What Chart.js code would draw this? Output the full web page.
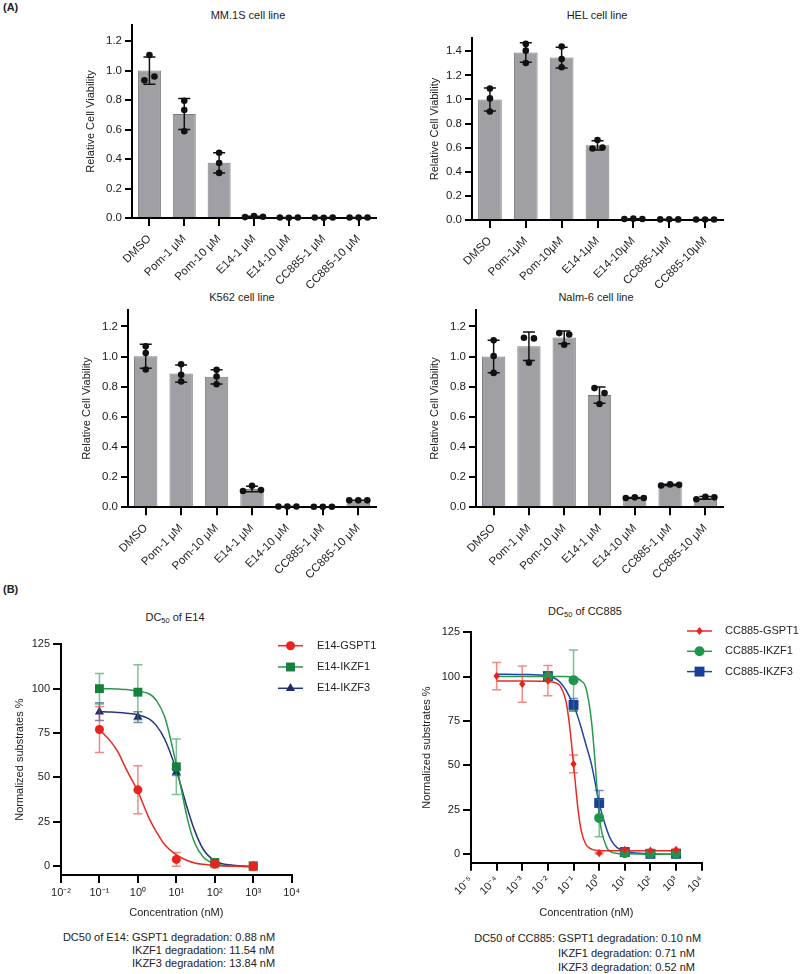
<!DOCTYPE html>
<html>
<head>
<meta charset="utf-8">
<script src="https://cdn.jsdelivr.net/npm/chart.js@4.4.1/dist/chart.umd.min.js"></script>
<style>
  body { margin:0; background:#fff; width:800px; height:974px; position:relative; overflow:hidden;
         font-family:"Liberation Sans", Arial, sans-serif; color:#222; }
  canvas { position:absolute; }
  .ttl { position:absolute; font-size:11px; transform:translate(-50%,-50%); white-space:nowrap; }
  .ttl sub { font-size:7.5px; vertical-align:-2px; }
  .tag { position:absolute; font-size:11px; font-weight:bold; }
  .dc { position:absolute; font-size:11px; white-space:nowrap; }
  .dc .lead { position:absolute; right:100%; white-space:pre; }
</style>
</head>
<body>

<div class="tag" style="left:3px;top:1px">(A)</div>
<div class="tag" style="left:3px;top:583px">(B)</div>

<div class="ttl" style="left:248px;top:15px">MM.1S cell line</div>
<div class="ttl" style="left:597px;top:15px">HEL cell line</div>
<div class="ttl" style="left:242px;top:297px">K562 cell line</div>
<div class="ttl" style="left:596px;top:297px">Nalm-6 cell line</div>
<div class="ttl" style="left:175px;top:618px">DC<sub>50</sub> of E14</div>
<div class="ttl" style="left:585px;top:612px">DC<sub>50</sub> of CC885</div>

<canvas id="mm1s" width="310" height="285" style="left:80px;top:15px"></canvas>
<canvas id="hel" width="316" height="285" style="left:424px;top:15px"></canvas>
<canvas id="k562" width="314" height="280" style="left:76px;top:300px"></canvas>
<canvas id="nalm6" width="316" height="280" style="left:424px;top:300px"></canvas>
<canvas id="e14" width="391" height="324" style="left:9px;top:600px"></canvas>
<canvas id="cc885" width="384" height="324" style="left:416px;top:600px"></canvas>

<div class="dc" style="left:132px;top:931px;line-height:13px"><span class="lead">DC50 of E14: </span>GSPT1 degradation: 0.88 nM<br>IKZF1 degradation: 11.54 nM<br>IKZF3 degradation: 13.84 nM</div>
<div class="dc" style="left:558px;top:931px;line-height:14.5px"><span class="lead">DC50 of CC885: </span>GSPT1 degradation: 0.10 nM<br>IKZF1 degradation: 0.71 nM<br>IKZF3 degradation: 0.52 nM</div>

<script>
// ---- bar panels: categories and replicate values (3 per group)
const CATS_SPACED = ['DMSO', 'Pom-1 μM', 'Pom-10 μM', 'E14-1 μM', 'E14-10 μM', 'CC885-1 μM', 'CC885-10 μM'];
const CATS_HEL = ['DMSO', 'Pom-1μM', 'Pom-10μM', 'E14-1μM', 'E14-10μM', 'CC885-1μM', 'CC885-10μM'];

const MM1S_REPS = [[1.105, 0.935, 0.96], [0.795, 0.733, 0.589], [0.443, 0.373, 0.306],
                   [0.006, 0.013, 0.008], [0.003, 0.002, 0.003], [0.003, 0.002, 0.003], [0.003, 0.003, 0.003]];
const HEL_REPS = [[1.09, 1.009, 0.90], [1.461, 1.405, 1.303], [1.439, 1.336, 1.267],
                  [0.593, 0.663, 0.602], [0.008, 0.011, 0.008], [0.005, 0.006, 0.005], [0.004, 0.004, 0.004]];
const K562_REPS = [[1.068, 1.024, 0.914], [0.949, 0.879, 0.835], [0.912, 0.868, 0.817],
                   [0.108, 0.143, 0.115], [0.005, 0.005, 0.005], [0.004, 0.004, 0.004], [0.046, 0.046, 0.046]];
const NALM6_REPS = [[1.108, 1.004, 0.892], [1.125, 1.121, 0.96], [1.156, 1.147, 1.079],
                    [0.791, 0.758, 0.686], [0.0615, 0.066, 0.0615], [0.145, 0.152, 0.149], [0.053, 0.07, 0.066]];

// ---- DC50 panels
const E14_CONC = [0.1, 1, 10, 100, 1000];
const E14_GSPT1 = [77, 43, 3.8, 1.1, 0];
const E14_GSPT1_SD = [13, 13.5, 3.9, 2, 2.5];
const E14_IKZF1 = [100, 98, 56, 2, 0];
const E14_IKZF1_SD = [8.6, 15.5, 15.6, 2, 2];
const E14_IKZF3 = [87, 84, 53, 1.5, 0];
const E14_IKZF3_SD = [5, 3, 2, 1, 1];

const E14_FIT_X = [0.1, 0.2, 0.3, 0.5, 1, 2, 3, 5, 10, 20, 30, 50, 100, 300, 1000];
const E14_GSPT1_FIT = [77, 70, 64.5, 54.5, 42, 26.5, 19.5, 12, 6.3, 3, 1.8, 1, 0.3, 0, 0];
const E14_IKZF1_FIT = [100, 100, 99.8, 99.5, 98.5, 97, 93.5, 84, 57, 25.5, 13, 5.2, 1.3, 0, -0.5];
const E14_IKZF3_FIT = [87, 86.8, 86.6, 86.2, 85.3, 82.8, 79.3, 71.5, 54, 31.5, 20, 9.5, 3, 0.5, -0.3];

const CC_CONC_G = [1e-4, 1e-3, 1e-2, 0.1, 1, 10, 100, 1000];
const CC_GSPT1 = [100.3, 95.8, 97.7, 50.7, 0.4, 2.3, 1.9, 2.3];
const CC_GSPT1_SD = [7.7, 10.2, 8.5, 5, 0.5, 0.5, 0.5, 0.5];
const CC_CONC_I = [1e-2, 0.1, 1, 10, 100, 1000];
const CC_IKZF1 = [100, 98, 20.2, 0.4, 0, 0];
const CC_IKZF1_SD = [1.5, 17, 10.5, 0.8, 0.5, 0.5];
const CC_IKZF3 = [100.3, 84, 28.7, 1, 0, 0];
const CC_IKZF3_SD = [1.5, 3.6, 7, 0.8, 0.5, 0.5];

const CC_FIT_X = [1e-4, 1e-3, 1e-2, 0.02, 0.03, 0.05, 0.07, 0.1, 0.15, 0.2, 0.3, 0.5, 0.7, 1, 2, 3, 5, 10, 100, 1000];
const CC_GSPT1_FIT = [97.5, 97.5, 97.3, 96.5, 94.8, 86.5, 72.5, 50.5, 25, 13, 5.4, 2.7, 2.1, 1.9, 1.8, 1.8, 1.8, 1.8, 1.8, 1.8];
const CC_IKZF1_FIT = [100, 100, 100, 100, 100, 100, 99.8, 99.5, 98.8, 97.5, 94, 75, 51, 21.5, 3.5, 1, 0.2, 0, -0.2, -0.2];
const CC_IKZF3_FIT = [101.4, 101.2, 100.4, 98.8, 96.8, 92.5, 88.5, 84, 77, 71, 62, 50.5, 40, 28.5, 13.5, 7.5, 3.5, 1.5, 0, -0.3];

const E14_XTICKS = [1e-2, 1e-1, 1, 10, 100, 1000, 10000];
const CC_XTICKS = [1e-5, 1e-4, 1e-3, 1e-2, 1e-1, 1, 10, 100, 1000, 10000];

Chart.defaults.font.family = '"Liberation Sans", Arial, sans-serif';
Chart.defaults.color = '#222';

const mean = a => a.reduce((s, v) => s + v, 0) / a.length;
const sd = a => { const m = mean(a); return Math.sqrt(a.reduce((s, v) => s + (v - m) * (v - m), 0) / (a.length - 1)); };

const SUP = {'-': '⁻', '0': '⁰', '1': '¹', '2': '²', '3': '³', '4': '⁴', '5': '⁵', '6': '⁶', '7': '⁷', '8': '⁸', '9': '⁹'};
function tenPow(v) {
  const e = Math.round(Math.log10(v));
  return '10' + String(e).split('').map(c => SUP[c]).join('');
}

function drawMarker(ctx, style, r, x, y) {
  ctx.beginPath();
  if (style === 'circle') {
    ctx.arc(x, y, r, 0, Math.PI * 2);
  } else if (style === 'rect') {
    const s = r * Math.SQRT1_2;
    ctx.rect(x - s, y - s, 2 * s, 2 * s);
  } else if (style === 'rectRot') {
    const s = r * Math.SQRT1_2;
    ctx.moveTo(x, y - r * 0.9); ctx.lineTo(x + s, y); ctx.lineTo(x, y + r * 0.9); ctx.lineTo(x - s, y);
    ctx.closePath();
  } else if (style === 'triangle') {
    ctx.moveTo(x, y - r);
    ctx.lineTo(x + r * 0.866, y + r * 0.5);
    ctx.lineTo(x - r * 0.866, y + r * 0.5);
    ctx.closePath();
  }
  ctx.fill();
}

// replicate dots + mean +/- SD on each bar
const replicatePlugin = {
  id: 'replicates',
  afterDatasetsDraw(chart, args, opts) {
    const ctx = chart.ctx, xs = chart.scales.x, ys = chart.scales.y;
    opts.reps.forEach((vals, i) => {
      const cx = xs.getPixelForValue(i);
      const m = mean(vals), s = sd(vals);
      const top = ys.getPixelForValue(m + s), bot = ys.getPixelForValue(m - s);
      ctx.save();
      ctx.strokeStyle = '#111';
      ctx.lineWidth = 1.5;
      ctx.beginPath();
      ctx.moveTo(cx, top); ctx.lineTo(cx, bot);
      ctx.moveTo(cx - 6, top); ctx.lineTo(cx + 6, top);
      ctx.moveTo(cx - 6, bot); ctx.lineTo(cx + 6, bot);
      ctx.stroke();

      const py = vals.map(v => ys.getPixelForValue(v));
      const order = vals.map((v, k) => k).sort((a, b) => py[a] - py[b]);
      const groups = [];
      order.forEach(k => {
        const g = groups[groups.length - 1];
        if (g && py[k] - py[g[g.length - 1]] < 6) g.push(k); else groups.push([k]);
      });
      ctx.fillStyle = '#111';
      groups.forEach(g => {
        g.sort((a, b) => a - b);
        const step = g.length === 2 ? 10 : 9;
        g.forEach((k, j) => {
          const dx = (j - (g.length - 1) / 2) * step;
          ctx.beginPath();
          ctx.arc(cx + dx, py[k], 3.3, 0, Math.PI * 2);
          ctx.fill();
        });
      });
      ctx.restore();
    });
  }
};

function barChart(id, cats, reps, ymax, box) {
  new Chart(document.getElementById(id), {
    type: 'bar',
    data: {
      labels: cats,
      datasets: [{
        data: reps.map(mean),
        backgroundColor: 'rgb(160,160,164)',
        borderColor: 'rgb(125,125,128)',
        borderWidth: 1,
        barPercentage: 0.66,
        categoryPercentage: 1
      }]
    },
    options: {
      responsive: false,
      animation: false,
      layout: {padding: {top: box.padTop, right: box.padRight, left: 0, bottom: 0}},
      plugins: {legend: {display: false}, tooltip: {enabled: false}, replicates: {reps: reps}},
      scales: {
        x: {
          grid: {display: true, drawOnChartArea: false, offset: false, tickLength: 8, lineWidth: 2, color: '#000'},
          border: {color: '#000', width: 2},
          ticks: {minRotation: 45, maxRotation: 45, autoSkip: false, font: {size: 11.5}, padding: 6},
          afterFit(s) { s.height = box.xh; }
        },
        y: {
          min: 0, max: ymax,
          ticks: {stepSize: 0.2, includeBounds: false, callback: v => v.toFixed(1), font: {size: 11.5}, padding: 3},
          grid: {drawOnChartArea: false, tickLength: 7, lineWidth: 2, color: '#000'},
          border: {color: '#000', width: 2},
          title: {display: true, text: 'Relative Cell Viability', font: {size: 11}},
          afterFit(s) { s.width = box.yw; }
        }
      }
    },
    plugins: [replicatePlugin]
  });
}

barChart('mm1s', CATS_SPACED, MM1S_REPS, 1.31, {padTop: 8, padRight: 14, xh: 82, yw: 52});
barChart('hel', CATS_HEL, HEL_REPS, 1.51, {padTop: 23, padRight: 17, xh: 80, yw: 48});
barChart('k562', CATS_SPACED, K562_REPS, 1.31, {padTop: 8.3, padRight: 14, xh: 72.7, yw: 52});
barChart('nalm6', CATS_SPACED, NALM6_REPS, 1.31, {padTop: 8.3, padRight: 17, xh: 72.7, yw: 52});

// error bars drawn just before each measured-point dataset
const errorBarPlugin = {
  id: 'errorBars',
  beforeDatasetDraw(chart, args) {
    const ds = chart.data.datasets[args.index];
    if (!ds.errors) return;
    const ctx = chart.ctx, xs = chart.scales.x, ys = chart.scales.y;
    ctx.save();
    ctx.strokeStyle = ds.errColor;
    ctx.lineWidth = 1.5;
    ds.data.forEach((p, i) => {
      const e = ds.errors[i];
      const px = xs.getPixelForValue(p.x);
      const t = ys.getPixelForValue(p.y + e), b = ys.getPixelForValue(p.y - e);
      ctx.beginPath();
      ctx.moveTo(px, t); ctx.lineTo(px, b);
      ctx.moveTo(px - 4.5, t); ctx.lineTo(px + 4.5, t);
      ctx.moveTo(px - 4.5, b); ctx.lineTo(px + 4.5, b);
      ctx.stroke();
    });
    ctx.restore();
  }
};

// markers drawn by hand so they match the legend exactly
const markerPlugin = {
  id: 'markers',
  afterDatasetDraw(chart, args) {
    const ds = chart.data.datasets[args.index];
    if (!ds.marker) return;
    const ctx = chart.ctx, xs = chart.scales.x, ys = chart.scales.y;
    ctx.save();
    ctx.fillStyle = ds.markerColor;
    ds.data.forEach(p => drawMarker(ctx, ds.marker, ds.markerSize, xs.getPixelForValue(p.x), ys.getPixelForValue(p.y)));
    ctx.restore();
  }
};

const sideLegend = {
  id: 'sideLegend',
  afterDraw(chart, args, o) {
    const ctx = chart.ctx;
    let k = 0;
    chart.data.datasets.forEach(ds => {
      if (!ds.marker) return;
      const y = o.y + k * o.dy;
      ctx.save();
      ctx.strokeStyle = ds.lineColor;
      ctx.lineWidth = 1.5;
      ctx.beginPath(); ctx.moveTo(o.x, y); ctx.lineTo(o.x + 25, y); ctx.stroke();
      ctx.fillStyle = ds.markerColor;
      drawMarker(ctx, ds.marker, ds.markerSize, o.x + 12.5, y);
      ctx.fillStyle = '#222';
      ctx.font = '11px "Liberation Sans", Arial, sans-serif';
      ctx.textBaseline = 'middle';
      ctx.fillText(ds.label, o.tx, y);
      ctx.restore();
      k++;
    });
  }
};

function series(label, xs, ys, errs, fitX, fitY, marker, size, mColor, lColor, eColor) {
  return [
    {data: fitX.map((x, i) => ({x: x, y: fitY[i]})), showLine: true, pointRadius: 0, borderColor: lColor,
     borderWidth: 1.5, cubicInterpolationMode: 'monotone', order: 2},
    {label: label, data: xs.map((x, i) => ({x: x, y: ys[i]})), showLine: false, pointRadius: 0,
     errors: errs, errColor: eColor, marker: marker, markerSize: size, markerColor: mColor, lineColor: lColor, order: 1}
  ];
}

function doseChart(id, datasets, xticks, rot, box, legend) {
  new Chart(document.getElementById(id), {
    type: 'scatter',
    data: {datasets: datasets},
    options: {
      responsive: false,
      animation: false,
      layout: {padding: {top: box.padTop, right: box.padRight, left: 0, bottom: 0}},
      plugins: {legend: {display: false}, tooltip: {enabled: false}, sideLegend: legend},
      scales: {
        x: {
          type: 'logarithmic', min: xticks[0], max: xticks[xticks.length - 1],
          afterBuildTicks(s) { s.ticks = xticks.map(v => ({value: v})); },
          ticks: {callback: v => tenPow(v), minRotation: rot, maxRotation: rot, autoSkip: false, font: {size: 11}, padding: 3},
          grid: {drawOnChartArea: false, tickLength: 8, lineWidth: 2, color: '#000'},
          border: {color: '#000', width: 2},
          title: {display: true, text: 'Concentration (nM)', font: {size: 11}},
          afterFit(s) { s.height = box.xh; }
        },
        y: {
          min: -5, max: 125,
          ticks: {stepSize: 25, includeBounds: false, font: {size: 11}, padding: 3},
          grid: {drawOnChartArea: false, tickLength: 8, lineWidth: 2, color: '#000'},
          border: {color: '#000', width: 2},
          title: {display: true, text: 'Normalized substrates %', font: {size: 11}},
          afterFit(s) { s.width = box.yw; }
        }
      }
    },
    plugins: [errorBarPlugin, markerPlugin, sideLegend]
  });
}

doseChart('e14', [].concat(
  series('E14-GSPT1', E14_CONC, E14_GSPT1, E14_GSPT1_SD, E14_FIT_X, E14_GSPT1_FIT, 'circle', 4.5, '#e8231d', '#ea2a22', 'rgba(234,60,50,0.6)'),
  series('E14-IKZF1', E14_CONC, E14_IKZF1, E14_IKZF1_SD, E14_FIT_X, E14_IKZF1_FIT, 'rect', 6.3, '#17803f', '#26994b', 'rgba(40,150,75,0.6)'),
  series('E14-IKZF3', E14_CONC, E14_IKZF3, E14_IKZF3_SD, E14_FIT_X, E14_IKZF3_FIT, 'triangle', 5.3, '#1f2a6e', '#27357e', 'rgba(40,52,125,0.6)')
), E14_XTICKS, 0, {padTop: 44.3, padRight: 108.3, xh: 49, yw: 52}, {x: 269, tx: 308, y: 45.7, dy: 21.3});

doseChart('cc885', [].concat(
  series('CC885-GSPT1', CC_CONC_G, CC_GSPT1, CC_GSPT1_SD, CC_FIT_X, CC_GSPT1_FIT, 'rectRot', 4.5, '#e8231d', '#ea2a22', 'rgba(234,60,50,0.6)'),
  series('CC885-IKZF1', CC_CONC_I, CC_IKZF1, CC_IKZF1_SD, CC_FIT_X, CC_IKZF1_FIT, 'circle', 5, '#1f954b', '#26994b', 'rgba(40,150,75,0.6)'),
  series('CC885-IKZF3', CC_CONC_I, CC_IKZF3, CC_IKZF3_SD, CC_FIT_X, CC_IKZF3_FIT, 'rect', 7, '#1a3c9a', '#1f45a5', 'rgba(30,65,160,0.6)')
), CC_XTICKS, 45, {padTop: 32.3, padRight: 98.3, xh: 61.3, yw: 55}, {x: 271, tx: 309, y: 31, dy: 20.3});
</script>
</body>
</html>
